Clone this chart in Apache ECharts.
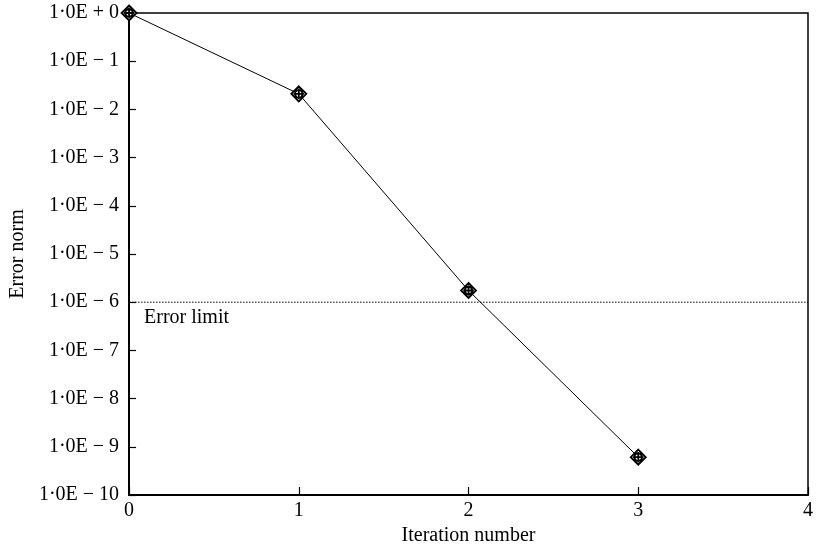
<!DOCTYPE html>
<html>
<head>
<meta charset="utf-8">
<script src="https://cdn.jsdelivr.net/npm/echarts@6/dist/echarts.min.js"></script>
<style>html,body{margin:0;padding:0;background:#fff;}#chart{width:816px;height:553px;}</style>
</head>
<body>
<div id="chart"></div>
<script>
const iterations = [0, 1, 2, 3];
const errorNorm = [1, 2.1e-2, 1.75e-6, 6.1e-10];
const errorLimit = 1e-6;
const errorLimitLabel = 'Error limit';
const xTicks = [0, 1, 2, 3, 4];
const yMinExp = -10;
const yMaxExp = 0;

const FONT = 'Liberation Serif';
const chart = echarts.init(document.getElementById('chart'));
const yLabel = v => {
  const e = Math.round(Math.log10(v));
  return e === 0 ? '1\u00B70E + 0' : '1\u00B70E \u2212 ' + (-e);
};
const xMin = xTicks[0], xMax = xTicks[xTicks.length - 1];
chart.setOption({
  animation: false,
  backgroundColor: '#fff',
  grid: { left: 122, right: 2, top: 13, bottom: 58, show: true, borderColor: '#000', borderWidth: 1.5, containLabel: false },
  xAxis: {
    type: 'value', min: xMin, max: xMax, interval: 1,
    name: 'Iteration number', nameLocation: 'middle', nameGap: 27,
    nameTextStyle: { fontFamily: FONT, fontSize: 20, color: '#000' },
    axisLine: { show: true, lineStyle: { color: '#000', width: 2 } },
    axisTick: { show: true, inside: true, length: 8, lineStyle: { color: '#000', width: 1.2 } },
    axisLabel: { fontFamily: FONT, fontSize: 20, color: '#000', margin: 6 },
    splitLine: { show: false }
  },
  yAxis: {
    type: 'log', logBase: 10, min: Math.pow(10, yMinExp), max: Math.pow(10, yMaxExp), splitNumber: 10, interval: 1,
    name: 'Error norm', nameLocation: 'middle', nameGap: 98,
    nameTextStyle: { fontFamily: FONT, fontSize: 20, color: '#000' },
    axisLine: { show: true, lineStyle: { color: '#000', width: 2 } },
    axisTick: { show: true, inside: true, length: 7, lineStyle: { color: '#000', width: 1.2 } },
    axisLabel: { fontFamily: FONT, fontSize: 20, color: '#000', margin: 10, formatter: yLabel },
    splitLine: { show: false },
    minorTick: { show: false }
  },
  series: [
    {
      type: 'line',
      data: [[xMin, errorLimit], [xMax, errorLimit]],
      symbol: 'none',
      silent: true,
      lineStyle: { color: '#000', type: [1.5, 1.5], width: 1 },
      z: 2
    },
    {
      type: 'scatter',
      data: [[xMin, errorLimit]],
      symbolSize: 0,
      silent: true,
      itemStyle: { opacity: 1, color: '#000' },
      label: { show: true, opacity: 1, position: 'right', distance: 15, offset: [0, 16], formatter: errorLimitLabel, fontFamily: FONT, fontSize: 20, color: '#000' },
      z: 3
    },
    {
      type: 'line',
      data: iterations.map((x, i) => [x, errorNorm[i]]),
      lineStyle: { color: '#000', width: 1 },
      symbol: 'path://M10 0 L20 10 L10 20 L0 10 Z M10 5 A5 5 0 1 1 9.99 5 Z M10 3 L10 17 M3 10 L17 10',
      symbolSize: 15,
      symbolKeepAspect: true,
      itemStyle: { color: '#fff', borderColor: '#000', borderWidth: 1.8 },
      z: 5
    }
  ]
});
</script>
</body>
</html>
